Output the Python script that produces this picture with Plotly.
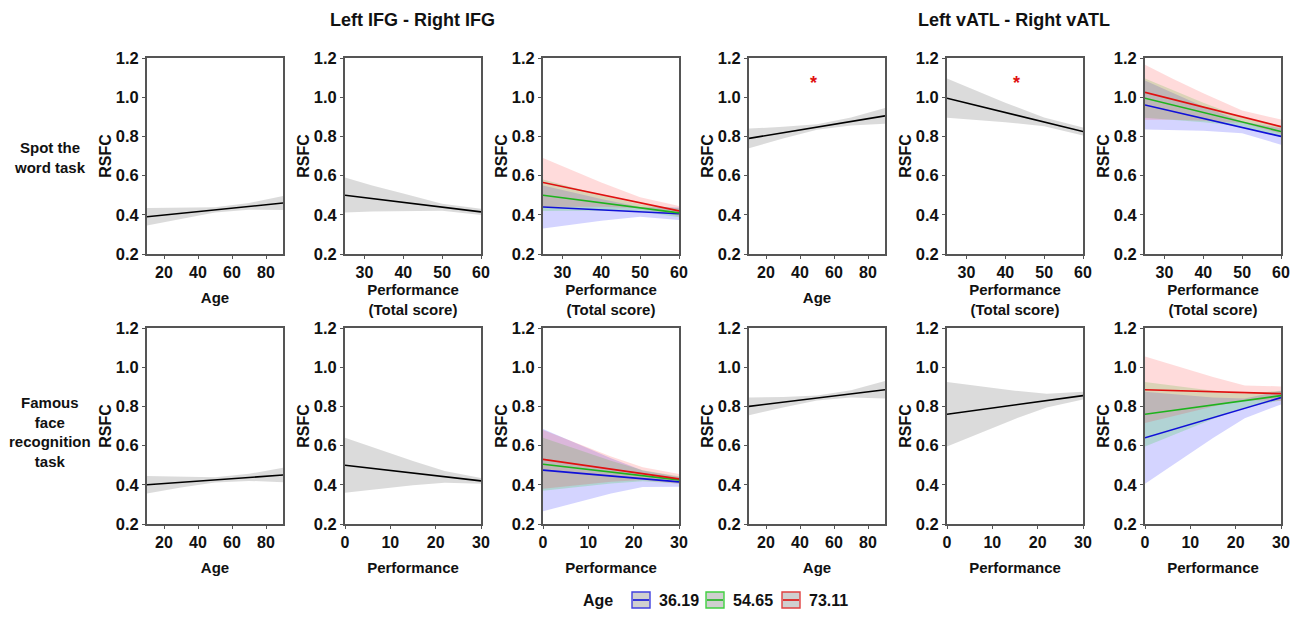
import plotly.graph_objects as go

# ---------------- data ----------------
age_x = [10, 30, 50, 70, 90]
tot_x = [25, 32, 40, 50, 60]
perf_x = [0, 8, 15, 22, 30]

age_ticks = [20, 40, 60, 80]
tot_ticks = [30, 40, 50, 60]
perf_ticks = [0, 10, 20, 30]
rsfc_ticks = [0.2, 0.4, 0.6, 0.8, 1.0, 1.2]

moderator_name = "Age"
moderator_levels = ["36.19", "54.65", "73.11"]

# Row 1: Spot the word task
p1_line = [0.39, 0.46]
p1_lo = [0.345, 0.380, 0.412, 0.426, 0.424]
p1_hi = [0.435, 0.436, 0.438, 0.460, 0.496]

p2_line = [0.50, 0.415]
p2_lo = [0.412, 0.417, 0.419, 0.421, 0.399]
p2_hi = [0.590, 0.549, 0.509, 0.457, 0.431]

p3_blue_line = [0.44, 0.405]
p3_blue_lo = [0.330, 0.350, 0.370, 0.390, 0.373]
p3_blue_hi = [0.550, 0.516, 0.480, 0.440, 0.437]
p3_green_line = [0.50, 0.41]
p3_green_lo = [0.420, 0.422, 0.421, 0.418, 0.388]
p3_green_hi = [0.580, 0.542, 0.501, 0.454, 0.432]
p3_red_line = [0.565, 0.42]
p3_red_lo = [0.440, 0.441, 0.441, 0.434, 0.395]
p3_red_hi = [0.690, 0.631, 0.565, 0.490, 0.445]

p4_line = [0.79, 0.905]
p4_lo = [0.740, 0.789, 0.834, 0.856, 0.865]
p4_hi = [0.840, 0.849, 0.862, 0.896, 0.945]

p5_line = [0.995, 0.825]
p5_lo = [0.895, 0.886, 0.872, 0.852, 0.805]
p5_hi = [1.095, 1.036, 0.972, 0.896, 0.845]

p6_blue_line = [0.96, 0.80]
p6_blue_lo = [0.835, 0.833, 0.829, 0.816, 0.758]
p6_blue_hi = [1.085, 1.023, 0.953, 0.876, 0.842]
p6_green_line = [0.995, 0.825]
p6_green_lo = [0.895, 0.886, 0.872, 0.852, 0.797]
p6_green_hi = [1.095, 1.036, 0.972, 0.896, 0.853]
p6_red_line = [1.025, 0.85]
p6_red_lo = [0.885, 0.885, 0.880, 0.868, 0.814]
p6_red_hi = [1.165, 1.095, 1.020, 0.932, 0.886]

# Row 2: Famous face recognition task
p7_line = [0.40, 0.45]
p7_lo = [0.355, 0.386, 0.412, 0.420, 0.413]
p7_hi = [0.445, 0.440, 0.438, 0.456, 0.487]

p8_line = [0.50, 0.42]
p8_lo = [0.360, 0.381, 0.398, 0.411, 0.405]
p8_hi = [0.640, 0.577, 0.522, 0.471, 0.435]

p9_blue_line = [0.475, 0.415]
p9_blue_lo = [0.265, 0.314, 0.355, 0.389, 0.390]
p9_blue_hi = [0.685, 0.604, 0.535, 0.473, 0.440]
p9_green_line = [0.505, 0.425]
p9_green_lo = [0.370, 0.390, 0.407, 0.418, 0.407]
p9_green_hi = [0.640, 0.578, 0.523, 0.474, 0.443]
p9_red_line = [0.53, 0.43]
p9_red_lo = [0.380, 0.398, 0.415, 0.425, 0.405]
p9_red_hi = [0.680, 0.608, 0.545, 0.489, 0.455]

p10_line = [0.80, 0.885]
p10_lo = [0.755, 0.794, 0.830, 0.846, 0.840]
p10_hi = [0.845, 0.848, 0.856, 0.882, 0.930]

p11_line = [0.76, 0.855]
p11_lo = [0.595, 0.670, 0.736, 0.795, 0.835]
p11_hi = [0.925, 0.900, 0.880, 0.865, 0.875]

p12_blue_line = [0.64, 0.845]
p12_blue_lo = [0.405, 0.530, 0.639, 0.740, 0.810]
p12_blue_hi = [0.875, 0.860, 0.845, 0.840, 0.880]
p12_green_line = [0.76, 0.855]
p12_green_lo = [0.595, 0.670, 0.736, 0.795, 0.830]
p12_green_hi = [0.925, 0.900, 0.880, 0.865, 0.880]
p12_red_line = [0.885, 0.865]
p12_red_lo = [0.715, 0.760, 0.800, 0.833, 0.828]
p12_red_hi = [1.055, 1.000, 0.950, 0.907, 0.902]

# significance markers: (panel index, x, y)
sig_marks = [(4, 48, 1.07), (5, 43, 1.075)]

# ---------------- styling ----------------
FONT = "Liberation Sans, Arial, sans-serif"
BLACK = "#111111"
FRAME = "#555555"
single_style = dict(line="#000000", fill="rgba(0,0,0,0.14)")
mod_styles = [
    dict(line="#1010d8", fill="rgba(40,40,255,0.20)", box="#4040e0"),
    dict(line="#1db31d", fill="rgba(40,210,40,0.20)", box="#40d040"),
    dict(line="#e01010", fill="rgba(255,40,40,0.17)", box="#e04040"),
]

age_ax = dict(x=age_x, rng=[10, 90], ticks=age_ticks, title="Age", standoff=12)
tot_ax = dict(x=tot_x, rng=[25, 60], ticks=tot_ticks, title="Performance<br>(Total score)", standoff=1)
perf_ax = dict(x=perf_x, rng=[0, 30], ticks=perf_ticks, title="Performance", standoff=12)

panels = [
    (age_ax, [(p1_line, p1_lo, p1_hi)]),
    (tot_ax, [(p2_line, p2_lo, p2_hi)]),
    (tot_ax, [(p3_blue_line, p3_blue_lo, p3_blue_hi), (p3_green_line, p3_green_lo, p3_green_hi),
              (p3_red_line, p3_red_lo, p3_red_hi)]),
    (age_ax, [(p4_line, p4_lo, p4_hi)]),
    (tot_ax, [(p5_line, p5_lo, p5_hi)]),
    (tot_ax, [(p6_blue_line, p6_blue_lo, p6_blue_hi), (p6_green_line, p6_green_lo, p6_green_hi),
              (p6_red_line, p6_red_lo, p6_red_hi)]),
    (age_ax, [(p7_line, p7_lo, p7_hi)]),
    (perf_ax, [(p8_line, p8_lo, p8_hi)]),
    (perf_ax, [(p9_blue_line, p9_blue_lo, p9_blue_hi), (p9_green_line, p9_green_lo, p9_green_hi),
               (p9_red_line, p9_red_lo, p9_red_hi)]),
    (age_ax, [(p10_line, p10_lo, p10_hi)]),
    (perf_ax, [(p11_line, p11_lo, p11_hi)]),
    (perf_ax, [(p12_blue_line, p12_blue_lo, p12_blue_hi), (p12_green_line, p12_green_lo, p12_green_hi),
               (p12_red_line, p12_red_lo, p12_red_hi)]),
]

# the page body has an 8px margin: size the figure to fit inside the window
OFF = 8
W, H = 1298 - 2 * OFF, 618 - 2 * OFF


def px_x(p):
    return (p - OFF) / W


def px_y(p):
    return 1 - (p - OFF) / H


col_left_px = [147, 345, 543, 749, 947, 1145]
panel_w_px = 136
row_top_px = [58, 328]
panel_h_px = 196

fig = go.Figure()
layout = dict()

for i, (ax, series) in enumerate(panels):
    n = i + 1
    r, c = divmod(i, 6)
    xa = "x" if n == 1 else f"x{n}"
    ya = "y" if n == 1 else f"y{n}"
    xs = ax["x"]
    multi = len(series) > 1
    # confidence bands
    for k, (ln, lo, hi) in enumerate(series):
        st = mod_styles[k] if multi else single_style
        fig.add_trace(go.Scatter(
            x=list(xs) + list(xs)[::-1], y=list(hi) + list(lo)[::-1],
            fill="toself", fillcolor=st["fill"], line=dict(width=0),
            mode="lines", hoverinfo="skip", showlegend=False, xaxis=xa, yaxis=ya))
    # fitted lines
    for k, (ln, lo, hi) in enumerate(series):
        st = mod_styles[k] if multi else single_style
        fig.add_trace(go.Scatter(
            x=[xs[0], xs[-1]], y=ln, mode="lines",
            line=dict(color=st["line"], width=1.6),
            name=f"{moderator_name} {moderator_levels[k]}" if multi else "Fit",
            showlegend=False, xaxis=xa, yaxis=ya))

    x0 = px_x(col_left_px[c])
    x1 = px_x(col_left_px[c] + panel_w_px)
    y1 = px_y(row_top_px[r])
    y0 = px_y(row_top_px[r] + panel_h_px)
    common = dict(showline=True, mirror=True, linecolor=FRAME, linewidth=1.8,
                  ticks="outside", ticklen=3, tickwidth=1.4, tickcolor=FRAME,
                  showgrid=False, zeroline=False, automargin=False)
    layout["xaxis" if n == 1 else f"xaxis{n}"] = dict(
        common, domain=[x0, x1], anchor=ya, range=ax["rng"], tickvals=ax["ticks"],
        tickfont=dict(family=FONT, size=16, color=BLACK, weight="bold"),
        title=dict(text=ax["title"], font=dict(family=FONT, size=15, color=BLACK, weight="bold"),
                   standoff=ax["standoff"]))
    layout["yaxis" if n == 1 else f"yaxis{n}"] = dict(
        common, domain=[y0, y1], anchor=xa, range=[0.2, 1.2], tickvals=rsfc_ticks,
        tickformat=".1f",
        tickfont=dict(family=FONT, size=16.5, color=BLACK, weight="bold"),
        title=dict(text="RSFC", font=dict(family=FONT, size=16, color=BLACK, weight="bold"),
                   standoff=0))

annotations = []
for (pi, sx, sy) in sig_marks:
    annotations.append(dict(x=sx, y=sy, xref=f"x{pi}", yref=f"y{pi}", text="*",
                            xanchor="center", yanchor="middle",
                            showarrow=False, font=dict(family=FONT, size=18, color="#e01010",
                                                       weight="bold")))
annotations += [
    dict(x=px_x(412), y=px_y(20), xref="paper", yref="paper", text="Left IFG - Right IFG",
         xanchor="center", yanchor="middle",
         showarrow=False, font=dict(family=FONT, size=18, color=BLACK, weight="bold")),
    dict(x=px_x(1014), y=px_y(20), xref="paper", yref="paper", text="Left vATL - Right vATL",
         xanchor="center", yanchor="middle",
         showarrow=False, font=dict(family=FONT, size=18, color=BLACK, weight="bold")),
    dict(x=px_x(50), y=px_y(157), xref="paper", yref="paper", text="Spot the<br>word task",
         xanchor="center", yanchor="middle",
         showarrow=False, font=dict(family=FONT, size=15, color=BLACK, weight="bold")),
    dict(x=px_x(50), y=px_y(432), xref="paper", yref="paper",
         text="Famous<br>face<br>recognition<br>task",
         xanchor="center", yanchor="middle",
         showarrow=False, font=dict(family=FONT, size=15, color=BLACK, weight="bold")),
]

# legend (drawn as a key below the panels, kept inside the figure area)
shapes = []
leg_y = 600
annotations.append(dict(x=px_x(598), y=px_y(leg_y), xref="paper", yref="paper",
                        text=moderator_name, xanchor="center", yanchor="middle", showarrow=False,
                        font=dict(family=FONT, size=16, color=BLACK, weight="bold")))
box_left_px = [632, 706, 782]
for k, lvl in enumerate(moderator_levels):
    bx = box_left_px[k]
    st = mod_styles[k]
    shapes.append(dict(type="rect", xref="paper", yref="paper",
                       x0=px_x(bx), x1=px_x(bx + 18), y0=px_y(leg_y + 8), y1=px_y(leg_y - 8),
                       fillcolor="#cfcfcf", line=dict(color=st["box"], width=1.4)))
    shapes.append(dict(type="line", xref="paper", yref="paper",
                       x0=px_x(bx + 1), x1=px_x(bx + 17), y0=px_y(leg_y), y1=px_y(leg_y),
                       line=dict(color=st["line"], width=1.6)))
    annotations.append(dict(x=px_x(bx + 25), y=px_y(leg_y), xref="paper", yref="paper",
                            text=lvl, xanchor="left", yanchor="middle", showarrow=False,
                            font=dict(family=FONT, size=16, color=BLACK, weight="bold")))

fig.update_layout(
    **layout,
    width=W, height=H,
    margin=dict(l=0, r=0, t=0, b=0, autoexpand=False),
    paper_bgcolor="white", plot_bgcolor="white",
    annotations=annotations,
    shapes=shapes,
    showlegend=False,
    font=dict(family=FONT),
)

fig.write_html("out.html")
